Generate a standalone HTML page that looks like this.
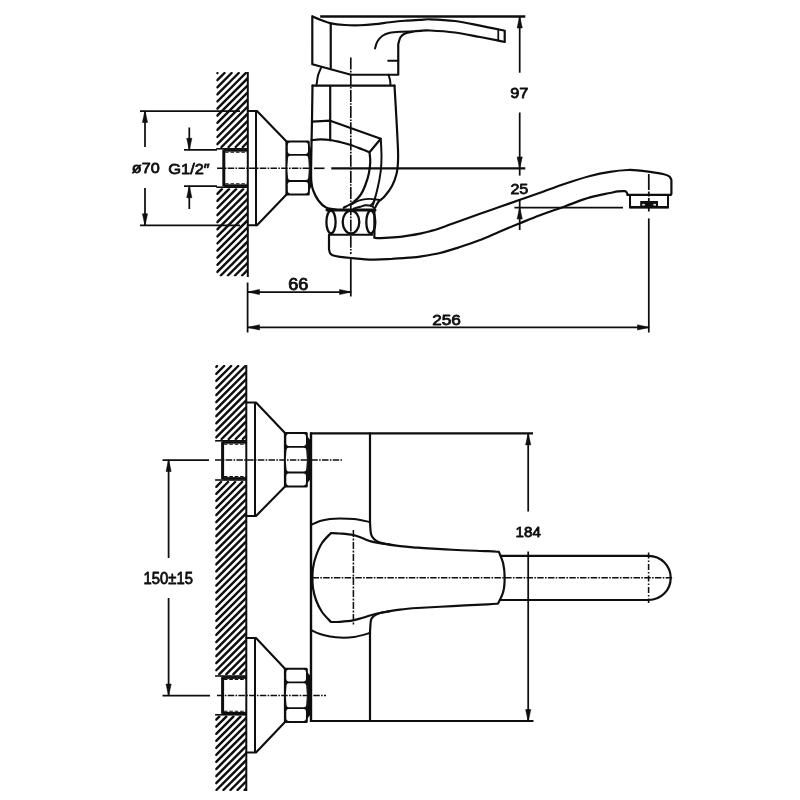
<!DOCTYPE html>
<html><head><meta charset="utf-8"><title>Faucet drawing</title>
<style>
html,body{margin:0;padding:0;background:#fff;}
body{width:800px;height:800px;overflow:hidden;font-family:"Liberation Sans",sans-serif;}
svg{display:block;filter:grayscale(1);}
</style></head>
<body>
<svg width="800" height="800" viewBox="0 0 800 800">
<rect width="800" height="800" fill="#ffffff"/>
<clipPath id="h1"><rect x="216.3" y="72" width="31.19999999999999" height="76.0"/></clipPath>
<g clip-path="url(#h1)" stroke="#140d0a" stroke-width="2.45" stroke-linecap="round">
<line x1="217.30" y1="73.10" x2="217.40" y2="73.00"/>
<line x1="217.30" y1="80.20" x2="224.50" y2="73.00"/>
<line x1="217.30" y1="87.30" x2="231.60" y2="73.00"/>
<line x1="217.30" y1="94.40" x2="238.70" y2="73.00"/>
<line x1="217.30" y1="101.50" x2="245.80" y2="73.00"/>
<line x1="217.30" y1="108.60" x2="247.50" y2="78.40"/>
<line x1="217.30" y1="115.70" x2="247.50" y2="85.50"/>
<line x1="217.30" y1="122.80" x2="247.50" y2="92.60"/>
<line x1="217.30" y1="129.90" x2="247.50" y2="99.70"/>
<line x1="217.30" y1="137.00" x2="247.50" y2="106.80"/>
<line x1="217.30" y1="144.10" x2="247.50" y2="113.90"/>
<line x1="221.50" y1="147.00" x2="247.50" y2="121.00"/>
<line x1="228.60" y1="147.00" x2="247.50" y2="128.10"/>
<line x1="235.70" y1="147.00" x2="247.50" y2="135.20"/>
<line x1="242.80" y1="147.00" x2="247.50" y2="142.30"/>
</g>
<clipPath id="h2"><rect x="216.3" y="188.2" width="31.19999999999999" height="88.30000000000001"/></clipPath>
<g clip-path="url(#h2)" stroke="#140d0a" stroke-width="2.45" stroke-linecap="round">
<line x1="217.30" y1="193.80" x2="221.90" y2="189.20"/>
<line x1="217.30" y1="200.90" x2="229.00" y2="189.20"/>
<line x1="217.30" y1="208.00" x2="236.10" y2="189.20"/>
<line x1="217.30" y1="215.10" x2="243.20" y2="189.20"/>
<line x1="217.30" y1="222.20" x2="247.50" y2="192.00"/>
<line x1="217.30" y1="229.30" x2="247.50" y2="199.10"/>
<line x1="217.30" y1="236.40" x2="247.50" y2="206.20"/>
<line x1="217.30" y1="243.50" x2="247.50" y2="213.30"/>
<line x1="217.30" y1="250.60" x2="247.50" y2="220.40"/>
<line x1="217.30" y1="257.70" x2="247.50" y2="227.50"/>
<line x1="217.30" y1="264.80" x2="247.50" y2="234.60"/>
<line x1="217.30" y1="271.90" x2="247.50" y2="241.70"/>
<line x1="220.80" y1="275.50" x2="247.50" y2="248.80"/>
<line x1="227.90" y1="275.50" x2="247.50" y2="255.90"/>
<line x1="235.00" y1="275.50" x2="247.50" y2="263.00"/>
<line x1="242.10" y1="275.50" x2="247.50" y2="270.10"/>
</g>
<rect x="222.6" y="148.8" width="24.900000000000006" height="38.39999999999998" fill="#fff"/>
<line x1="216.29999999999998" y1="148.8" x2="247.5" y2="148.8" stroke="#140d0a" stroke-width="1.6" stroke-linecap="butt"/>
<line x1="216.29999999999998" y1="187.2" x2="247.5" y2="187.2" stroke="#140d0a" stroke-width="1.6" stroke-linecap="butt"/>
<line x1="223.6" y1="150.4" x2="247.5" y2="150.4" stroke="#140d0a" stroke-width="2.6" stroke-linecap="butt"/>
<line x1="223.6" y1="185.6" x2="247.5" y2="185.6" stroke="#140d0a" stroke-width="2.6" stroke-linecap="butt"/>
<line x1="225.1" y1="152.3" x2="247.5" y2="152.3" stroke="#140d0a" stroke-width="1.1" stroke-linecap="butt" stroke-dasharray="3.6 1.8"/>
<line x1="225.1" y1="183.7" x2="247.5" y2="183.7" stroke="#140d0a" stroke-width="1.1" stroke-linecap="butt" stroke-dasharray="3.6 1.8"/>
<line x1="223.79999999999998" y1="149.8" x2="223.79999999999998" y2="186.2" stroke="#140d0a" stroke-width="3.0" stroke-linecap="butt"/>
<line x1="247.8" y1="72" x2="247.8" y2="277" stroke="#140d0a" stroke-width="2.0" stroke-linecap="butt"/>
<line x1="140" y1="111" x2="240" y2="111" stroke="#140d0a" stroke-width="1.75" stroke-linecap="butt"/>
<line x1="140" y1="225.3" x2="240" y2="225.3" stroke="#140d0a" stroke-width="1.75" stroke-linecap="butt"/>
<line x1="145" y1="111" x2="145" y2="147" stroke="#140d0a" stroke-width="1.75" stroke-linecap="butt"/>
<polygon fill="#140d0a" stroke="#140d0a" stroke-width="0.5" stroke-linejoin="round" points="145.0,110.5 142.4,122.5 147.6,122.5"/>
<line x1="145" y1="188" x2="145" y2="225.3" stroke="#140d0a" stroke-width="1.75" stroke-linecap="butt"/>
<polygon fill="#140d0a" stroke="#140d0a" stroke-width="0.5" stroke-linejoin="round" points="145.0,225.8 142.4,213.8 147.6,213.8"/>
<text x="131.75" y="172.5" textLength="27.91" lengthAdjust="spacingAndGlyphs" font-family="'Liberation Sans', sans-serif" font-size="15.5" fill="#140d0a" stroke="#140d0a" stroke-width="0.8" stroke-linejoin="round">ø70</text>
<line x1="184" y1="149.8" x2="217" y2="149.8" stroke="#140d0a" stroke-width="1.75" stroke-linecap="butt"/>
<line x1="184" y1="186.2" x2="217" y2="186.2" stroke="#140d0a" stroke-width="1.75" stroke-linecap="butt"/>
<line x1="189.3" y1="127.5" x2="189.3" y2="149" stroke="#140d0a" stroke-width="1.75" stroke-linecap="butt"/>
<polygon fill="#140d0a" stroke="#140d0a" stroke-width="0.5" stroke-linejoin="round" points="189.3,150.3 186.7,138.3 191.9,138.3"/>
<line x1="189.3" y1="209" x2="189.3" y2="187" stroke="#140d0a" stroke-width="1.75" stroke-linecap="butt"/>
<polygon fill="#140d0a" stroke="#140d0a" stroke-width="0.5" stroke-linejoin="round" points="189.3,185.7 186.7,197.7 191.9,197.7"/>
<text x="168.25" y="173.7" textLength="41.41" lengthAdjust="spacingAndGlyphs" font-family="'Liberation Sans', sans-serif" font-size="15.5" fill="#140d0a" stroke="#140d0a" stroke-width="0.8" stroke-linejoin="round">G1/2″</text>
<path d="M247.8,111 H257 L286.5,141.5 M247.8,225.3 H257 L286.5,194.5" fill="none" stroke="#140d0a" stroke-width="2.1" stroke-linejoin="round" stroke-linecap="round" />
<line x1="256" y1="111" x2="256" y2="225.3" stroke="#140d0a" stroke-width="2.0" stroke-linecap="butt"/>
<rect x="285.4" y="140.5" width="24.4" height="55.0" rx="1.5" fill="#140d0a"/>
<path d="M290.1,142.6 H305.7 Q308.0,142.6 308.0,144.9 Q308.0,148.25 308.0,151.6 Q308.0,153.9 305.7,153.9 H290.1 Q287.8,153.9 287.8,151.6 Q287.8,148.25 287.8,144.9 Q287.8,142.6 290.1,142.6 Z" fill="#fff"/>
<path d="M290.3,155.70000000000002 H305.9 Q308.2,155.70000000000002 308.2,158.00000000000003 Q309.59999999999997,167.9 308.2,177.79999999999998 Q308.2,180.1 305.9,180.1 H290.3 Q288.0,180.1 288.0,177.79999999999998 Q286.6,167.9 288.0,158.00000000000003 Q288.0,155.70000000000002 290.3,155.70000000000002 Z" fill="#fff"/>
<path d="M290.1,181.9 H305.7 Q308.0,181.9 308.0,184.20000000000002 Q308.0,187.65 308.0,191.1 Q308.0,193.4 305.7,193.4 H290.1 Q287.8,193.4 287.8,191.1 Q287.8,187.65 287.8,184.20000000000002 Q287.8,181.9 290.1,181.9 Z" fill="#fff"/>
<path d="M309,144.5 Q309.8,168.0 309,191.5 L311.3,186.5 V149.5 Z" fill="#140d0a"/>
<line x1="217" y1="168.3" x2="310" y2="168.3" stroke="#140d0a" stroke-width="1.55" stroke-linecap="butt" stroke-dasharray="6.5 1.3 1.6 1.3"/>
<line x1="314" y1="168.3" x2="324.5" y2="168.3" stroke="#140d0a" stroke-width="1.65" stroke-linecap="butt"/>
<line x1="331.3" y1="168.3" x2="525.3" y2="168.3" stroke="#140d0a" stroke-width="2.2" stroke-linecap="butt"/>
<line x1="350.8" y1="57.5" x2="350.8" y2="254" stroke="#140d0a" stroke-width="1.65" stroke-linecap="butt" stroke-dasharray="12 1.3 1.6 1.3"/>
<line x1="350.8" y1="257.5" x2="350.8" y2="296.5" stroke="#140d0a" stroke-width="1.75" stroke-linecap="butt"/>
<path d="M312.3,16.25 V64.25 L351,74.75 H398.25 V44 C398.62,42.88 399.38,39.00 400.50,37.25 C401.62,35.50 403.00,34.42 405.00,33.50 C407.00,32.58 410.00,32.13 412.50,31.70 C415.00,31.27 417.08,31.10 420.00,30.90 C422.92,30.70 424.17,30.23 430.00,30.50 C435.83,30.77 446.67,31.42 455.00,32.50 C463.33,33.58 472.92,35.68 480.00,37.00 C487.08,38.32 493.38,39.57 497.50,40.40 C501.62,41.23 503.50,41.73 504.70,42.00 V30.75 C500.58,29.89 488.28,27.23 480.00,25.60 C471.72,23.98 463.33,22.05 455.00,21.00 C446.67,19.95 435.83,19.48 430.00,19.30 C424.17,19.12 424.17,19.66 420.00,19.90 C415.83,20.14 410.00,20.36 405.00,20.75 C400.00,21.14 395.00,21.68 390.00,22.25 C385.00,22.82 380.00,23.70 375.00,24.20 C370.00,24.70 365.00,25.12 360.00,25.25 C355.00,25.38 349.88,25.32 345.00,25.00 C340.12,24.68 334.75,24.13 330.75,23.30 C326.75,22.47 324.07,21.18 321.00,20.00 C317.93,18.82 313.75,16.88 312.30,16.25 Z" fill="none" stroke="#140d0a" stroke-width="2.2" stroke-linejoin="round" stroke-linecap="round" />
<path d="M330.75,23.3 V68" fill="none" stroke="#140d0a" stroke-width="2.2" stroke-linejoin="round" stroke-linecap="round" />
<path d="M375.00,48.50 C375.38,47.38 376.00,43.88 377.25,41.75 C378.50,39.62 380.38,37.25 382.50,35.75 C384.62,34.25 386.75,33.42 390.00,32.75 C393.25,32.08 398.25,31.91 402.00,31.70 C405.75,31.49 410.75,31.53 412.50,31.50 " fill="none" stroke="#140d0a" stroke-width="2.0" stroke-linejoin="round" stroke-linecap="round" />
<path d="M388.2,60.8 H398.25" fill="none" stroke="#140d0a" stroke-width="2.0" stroke-linejoin="round" stroke-linecap="round" />
<path d="M498.25,29.3 V40.5" fill="none" stroke="#140d0a" stroke-width="1.75" stroke-linejoin="round" stroke-linecap="round" />
<path d="M321.00,68.00 C320.50,69.25 318.75,72.62 318.00,75.50 C317.25,78.38 316.75,83.62 316.50,85.25 " fill="none" stroke="#140d0a" stroke-width="2.0" stroke-linejoin="round" stroke-linecap="round" />
<path d="M388.50,74.75 C388.75,75.62 389.67,78.25 390.00,80.00 C390.33,81.75 390.42,84.38 390.50,85.25 " fill="none" stroke="#140d0a" stroke-width="2.0" stroke-linejoin="round" stroke-linecap="round" />
<path d="M312.5,85.7 H394.5" fill="none" stroke="#140d0a" stroke-width="2.2" stroke-linejoin="round" stroke-linecap="round" />
<path d="M330.2,86 V140.4" fill="none" stroke="#140d0a" stroke-width="2.2" stroke-linejoin="round" stroke-linecap="round" />
<path d="M312.5,85.5 L312,120 L311.4,150 C311.35,153.67 311.10,166.67 311.10,172.00 C311.10,177.33 311.05,178.92 311.40,182.00 C311.75,185.08 312.03,187.42 313.20,190.50 C314.37,193.58 316.27,197.65 318.40,200.50 C320.53,203.35 323.07,206.10 326.00,207.60 C328.93,209.10 334.33,209.18 336.00,209.50 " fill="none" stroke="#140d0a" stroke-width="2.2" stroke-linejoin="round" stroke-linecap="round" />
<path d="M343.75,207.80 C345.29,206.92 350.21,204.63 353.00,202.50 C355.79,200.37 358.50,197.75 360.50,195.00 C362.50,192.25 363.62,189.50 365.00,186.00 C366.38,182.50 367.88,178.00 368.75,174.00 C369.62,170.00 370.12,165.62 370.25,162.00 C370.38,158.38 369.62,153.88 369.50,152.25 " fill="none" stroke="#140d0a" stroke-width="2.2" stroke-linejoin="round" stroke-linecap="round" />
<path d="M394.50,85.70 C394.83,91.42 395.92,109.28 396.50,120.00 C397.08,130.72 397.75,143.00 398.00,150.00 C398.25,157.00 398.25,158.00 398.00,162.00 C397.75,166.00 397.50,170.00 396.50,174.00 C395.50,178.00 394.00,182.25 392.00,186.00 C390.00,189.75 386.75,193.88 384.50,196.50 C382.25,199.12 380.04,199.92 378.50,201.75 C376.96,203.58 375.79,206.54 375.25,207.50 " fill="none" stroke="#140d0a" stroke-width="2.2" stroke-linejoin="round" stroke-linecap="round" />
<path d="M312,121.7 L330.2,120.7 L380.75,138.75 L369.5,152.25 C368.25,151.75 365.25,150.50 362.00,149.25 C358.75,148.00 353.67,145.96 350.00,144.75 C346.33,143.54 343.30,142.79 340.00,142.00 C336.70,141.21 333.53,140.43 330.20,140.00 C326.87,139.57 323.10,139.37 320.00,139.40 C316.90,139.43 313.00,140.07 311.60,140.20 " fill="none" stroke="#140d0a" stroke-width="2.2" stroke-linejoin="round" stroke-linecap="round" />
<path d="M380.75,138.75 C380.88,141.62 381.50,150.62 381.50,156.00 C381.50,161.38 381.38,165.75 380.75,171.00 C380.12,176.25 378.88,182.50 377.75,187.50 C376.62,192.50 375.17,198.04 374.00,201.00 C372.83,203.96 371.29,204.54 370.75,205.25 " fill="none" stroke="#140d0a" stroke-width="2.0" stroke-linejoin="round" stroke-linecap="round" />
<path d="M374.6,200.4 L373,205" fill="none" stroke="#140d0a" stroke-width="1.8000000000000003" stroke-linejoin="round" stroke-linecap="round" />
<path d="M351.25,204.50 C352.62,203.82 356.62,201.33 359.50,200.40 C362.38,199.47 365.00,198.97 368.50,198.90 C372.00,198.83 378.50,199.82 380.50,200.00 " fill="none" stroke="#140d0a" stroke-width="1.9000000000000001" stroke-linejoin="round" stroke-linecap="round" />
<path d="M353.50,208.60 C354.62,208.29 358.25,207.31 360.25,206.75 C362.25,206.19 363.62,205.38 365.50,205.25 C367.38,205.12 370.00,205.50 371.50,206.00 C373.00,206.50 374.00,207.88 374.50,208.25 " fill="none" stroke="#140d0a" stroke-width="1.9000000000000001" stroke-linejoin="round" stroke-linecap="round" />
<line x1="327" y1="209.9" x2="375" y2="209.9" stroke="#140d0a" stroke-width="3.0" stroke-linecap="round"/>
<ellipse cx="331" cy="222" rx="4.6" ry="11.3" fill="none" stroke="#140d0a" stroke-width="2.3000000000000003"/>
<ellipse cx="351" cy="222" rx="8.3" ry="11.5" fill="none" stroke="#140d0a" stroke-width="2.3000000000000003"/>
<ellipse cx="370.8" cy="222" rx="4.5" ry="11.3" fill="none" stroke="#140d0a" stroke-width="2.3000000000000003"/>
<line x1="328.75" y1="234.75" x2="373" y2="234.75" stroke="#140d0a" stroke-width="2.2" stroke-linecap="butt"/>
<path d="M329,234.75 V249 C329.17,249.67 329.42,251.97 330.00,253.00 C330.58,254.03 330.83,254.57 332.50,255.20 C334.17,255.83 336.92,256.33 340.00,256.80 C343.08,257.27 345.58,257.53 351.00,258.00 C356.42,258.47 365.83,259.43 372.50,259.60 C379.17,259.77 384.75,259.33 391.00,259.00 C397.25,258.67 405.17,258.00 410.00,257.60 C414.83,257.20 415.00,257.37 420.00,256.60 C425.00,255.83 433.33,254.60 440.00,253.00 C446.67,251.40 453.33,249.17 460.00,247.00 C466.67,244.83 473.33,242.60 480.00,240.00 C486.67,237.40 493.33,234.20 500.00,231.40 C506.67,228.60 513.33,225.90 520.00,223.20 C526.67,220.50 532.92,217.86 540.00,215.20 C547.08,212.54 557.50,209.05 562.50,207.25 C567.50,205.45 565.42,206.04 570.00,204.40 C574.58,202.76 583.33,199.30 590.00,197.40 C596.67,195.50 605.33,194.00 610.00,193.00 C614.67,192.00 615.50,191.70 618.00,191.40 C620.50,191.10 623.50,190.93 625.00,191.20 C626.50,191.47 626.58,192.37 627.00,193.00 C627.42,193.63 627.42,194.67 627.50,195.00 H670" fill="none" stroke="#140d0a" stroke-width="2.2" stroke-linejoin="round" stroke-linecap="round" />
<path d="M374.4,210 V237 C374.53,237.17 373.43,237.87 375.20,238.00 C376.97,238.13 380.87,238.00 385.00,237.80 C389.13,237.60 395.83,237.20 400.00,236.80 C404.17,236.40 406.67,235.93 410.00,235.40 C413.33,234.87 416.67,234.30 420.00,233.60 C423.33,232.90 426.67,232.10 430.00,231.20 C433.33,230.30 435.00,229.90 440.00,228.20 C445.00,226.50 453.33,223.40 460.00,221.00 C466.67,218.60 473.33,216.17 480.00,213.80 C486.67,211.43 493.33,209.14 500.00,206.80 C506.67,204.46 513.33,202.09 520.00,199.75 C526.67,197.41 532.50,195.42 540.00,192.75 C547.50,190.08 556.67,186.54 565.00,183.75 C573.33,180.96 582.50,177.99 590.00,176.00 C597.50,174.01 603.67,172.80 610.00,171.80 C616.33,170.80 623.00,170.20 628.00,170.00 C633.00,169.80 636.33,170.30 640.00,170.60 C643.67,170.90 646.17,171.23 650.00,171.80 C653.83,172.37 659.79,173.25 663.00,174.00 C666.21,174.75 667.85,175.30 669.25,176.30 C670.65,177.30 671.04,179.38 671.40,180.00 V194 L670.6,195" fill="none" stroke="#140d0a" stroke-width="2.2" stroke-linejoin="round" stroke-linecap="round" />
<path d="M630,195 V207.2 H668 V195" fill="none" stroke="#140d0a" stroke-width="2.0" stroke-linejoin="round" stroke-linecap="round" />
<line x1="629.2" y1="207.3" x2="668.8" y2="207.3" stroke="#140d0a" stroke-width="2.5" stroke-linecap="butt"/>
<line x1="626.8" y1="194.9" x2="671.2" y2="194.9" stroke="#140d0a" stroke-width="2.1" stroke-linecap="butt"/>
<rect x="640.2" y="201" width="17.8" height="6.4" fill="#140d0a"/>
<rect x="642.2" y="203.9" width="2.6" height="1.7" fill="#e8e4e0"/>
<rect x="653.4" y="203.9" width="2.6" height="1.7" fill="#e8e4e0"/>
<line x1="648.8" y1="174" x2="648.8" y2="211.6" stroke="#140d0a" stroke-width="1.75" stroke-linecap="butt" stroke-dasharray="16 1.5 5 1.5 6 1.5"/>
<line x1="648.8" y1="218.4" x2="648.8" y2="332.5" stroke="#140d0a" stroke-width="1.75" stroke-linecap="butt"/>
<line x1="320.2" y1="16.5" x2="525.3" y2="16.5" stroke="#140d0a" stroke-width="2.3000000000000003" stroke-linecap="butt"/>
<line x1="519.7" y1="16.5" x2="519.7" y2="72.7" stroke="#140d0a" stroke-width="1.75" stroke-linecap="butt"/>
<polygon fill="#140d0a" stroke="#140d0a" stroke-width="0.5" stroke-linejoin="round" points="519.7,16.0 517.1,28.0 522.3,28.0"/>
<line x1="519.7" y1="112.5" x2="519.7" y2="175.6" stroke="#140d0a" stroke-width="1.75" stroke-linecap="butt"/>
<polygon fill="#140d0a" stroke="#140d0a" stroke-width="0.5" stroke-linejoin="round" points="519.7,168.9 517.1,156.9 522.3,156.9"/>
<text x="510.15" y="98" textLength="18.20" lengthAdjust="spacingAndGlyphs" font-family="'Liberation Sans', sans-serif" font-size="15.5" fill="#140d0a" stroke="#140d0a" stroke-width="0.8" stroke-linejoin="round">97</text>
<line x1="514.4" y1="207.5" x2="623" y2="207.5" stroke="#140d0a" stroke-width="1.75" stroke-linecap="butt"/>
<line x1="519.7" y1="199.6" x2="519.7" y2="230" stroke="#140d0a" stroke-width="1.75" stroke-linecap="butt"/>
<polygon fill="#140d0a" stroke="#140d0a" stroke-width="0.5" stroke-linejoin="round" points="519.7,207.0 517.1,219.0 522.3,219.0"/>
<text x="510.40" y="193.5" textLength="17.95" lengthAdjust="spacingAndGlyphs" font-family="'Liberation Sans', sans-serif" font-size="15.5" fill="#140d0a" stroke="#140d0a" stroke-width="0.8" stroke-linejoin="round">25</text>
<line x1="247.6" y1="282.5" x2="247.6" y2="332.5" stroke="#140d0a" stroke-width="1.75" stroke-linecap="butt"/>
<line x1="248" y1="292" x2="351" y2="292" stroke="#140d0a" stroke-width="1.75" stroke-linecap="butt"/>
<polygon fill="#140d0a" stroke="#140d0a" stroke-width="0.5" stroke-linejoin="round" points="247.5,292.0 259.5,289.4 259.5,294.6"/>
<polygon fill="#140d0a" stroke="#140d0a" stroke-width="0.5" stroke-linejoin="round" points="351.5,292.0 339.5,289.4 339.5,294.6"/>
<text x="288.22" y="289.6" textLength="20.06" lengthAdjust="spacingAndGlyphs" font-family="'Liberation Sans', sans-serif" font-size="16" fill="#140d0a" stroke="#140d0a" stroke-width="0.8" stroke-linejoin="round">66</text>
<line x1="248" y1="327.4" x2="649" y2="327.4" stroke="#140d0a" stroke-width="1.75" stroke-linecap="butt"/>
<polygon fill="#140d0a" stroke="#140d0a" stroke-width="0.5" stroke-linejoin="round" points="247.5,327.4 259.5,324.8 259.5,330.0"/>
<polygon fill="#140d0a" stroke="#140d0a" stroke-width="0.5" stroke-linejoin="round" points="649.5,327.4 637.5,324.8 637.5,330.0"/>
<text x="432.18" y="325" textLength="28.65" lengthAdjust="spacingAndGlyphs" font-family="'Liberation Sans', sans-serif" font-size="15" fill="#140d0a" stroke="#140d0a" stroke-width="0.8" stroke-linejoin="round">256</text>
<clipPath id="h3"><rect x="215.2" y="365" width="30.80000000000001" height="75.0"/></clipPath>
<g clip-path="url(#h3)" stroke="#140d0a" stroke-width="2.45" stroke-linecap="round">
<line x1="216.20" y1="366.84" x2="217.04" y2="366.00"/>
<line x1="216.20" y1="373.90" x2="224.10" y2="366.00"/>
<line x1="216.20" y1="380.96" x2="231.16" y2="366.00"/>
<line x1="216.20" y1="388.01" x2="238.21" y2="366.00"/>
<line x1="216.20" y1="395.07" x2="245.27" y2="366.00"/>
<line x1="216.20" y1="402.12" x2="246.00" y2="372.32"/>
<line x1="216.20" y1="409.18" x2="246.00" y2="379.38"/>
<line x1="216.20" y1="416.24" x2="246.00" y2="386.44"/>
<line x1="216.20" y1="423.29" x2="246.00" y2="393.49"/>
<line x1="216.20" y1="430.35" x2="246.00" y2="400.55"/>
<line x1="216.20" y1="437.40" x2="246.00" y2="407.60"/>
<line x1="221.66" y1="439.00" x2="246.00" y2="414.66"/>
<line x1="228.72" y1="439.00" x2="246.00" y2="421.72"/>
<line x1="235.77" y1="439.00" x2="246.00" y2="428.77"/>
<line x1="242.83" y1="439.00" x2="246.00" y2="435.83"/>
</g>
<clipPath id="h4"><rect x="215.2" y="481" width="30.80000000000001" height="194.20000000000005"/></clipPath>
<g clip-path="url(#h4)" stroke="#140d0a" stroke-width="2.45" stroke-linecap="round">
<line x1="216.20" y1="486.80" x2="221.00" y2="482.00"/>
<line x1="216.20" y1="493.85" x2="228.05" y2="482.00"/>
<line x1="216.20" y1="500.91" x2="235.11" y2="482.00"/>
<line x1="216.20" y1="507.96" x2="242.16" y2="482.00"/>
<line x1="216.20" y1="515.02" x2="246.00" y2="485.22"/>
<line x1="216.20" y1="522.08" x2="246.00" y2="492.28"/>
<line x1="216.20" y1="529.13" x2="246.00" y2="499.33"/>
<line x1="216.20" y1="536.19" x2="246.00" y2="506.39"/>
<line x1="216.20" y1="543.24" x2="246.00" y2="513.44"/>
<line x1="216.20" y1="550.30" x2="246.00" y2="520.50"/>
<line x1="216.20" y1="557.36" x2="246.00" y2="527.56"/>
<line x1="216.20" y1="564.41" x2="246.00" y2="534.61"/>
<line x1="216.20" y1="571.47" x2="246.00" y2="541.67"/>
<line x1="216.20" y1="578.52" x2="246.00" y2="548.72"/>
<line x1="216.20" y1="585.58" x2="246.00" y2="555.78"/>
<line x1="216.20" y1="592.64" x2="246.00" y2="562.84"/>
<line x1="216.20" y1="599.69" x2="246.00" y2="569.89"/>
<line x1="216.20" y1="606.75" x2="246.00" y2="576.95"/>
<line x1="216.20" y1="613.80" x2="246.00" y2="584.00"/>
<line x1="216.20" y1="620.86" x2="246.00" y2="591.06"/>
<line x1="216.20" y1="627.92" x2="246.00" y2="598.12"/>
<line x1="216.20" y1="634.97" x2="246.00" y2="605.17"/>
<line x1="216.20" y1="642.03" x2="246.00" y2="612.23"/>
<line x1="216.20" y1="649.08" x2="246.00" y2="619.28"/>
<line x1="216.20" y1="656.14" x2="246.00" y2="626.34"/>
<line x1="216.20" y1="663.20" x2="246.00" y2="633.40"/>
<line x1="216.20" y1="670.25" x2="246.00" y2="640.45"/>
<line x1="219.31" y1="674.20" x2="246.00" y2="647.51"/>
<line x1="226.36" y1="674.20" x2="246.00" y2="654.56"/>
<line x1="233.42" y1="674.20" x2="246.00" y2="661.62"/>
<line x1="240.48" y1="674.20" x2="246.00" y2="668.68"/>
</g>
<clipPath id="h5"><rect x="215.2" y="715.6" width="30.80000000000001" height="75.39999999999998"/></clipPath>
<g clip-path="url(#h5)" stroke="#140d0a" stroke-width="2.45" stroke-linecap="round">
<line x1="216.20" y1="719.64" x2="219.24" y2="716.60"/>
<line x1="216.20" y1="726.70" x2="226.30" y2="716.60"/>
<line x1="216.20" y1="733.76" x2="233.36" y2="716.60"/>
<line x1="216.20" y1="740.81" x2="240.41" y2="716.60"/>
<line x1="216.20" y1="747.87" x2="246.00" y2="718.07"/>
<line x1="216.20" y1="754.92" x2="246.00" y2="725.12"/>
<line x1="216.20" y1="761.98" x2="246.00" y2="732.18"/>
<line x1="216.20" y1="769.04" x2="246.00" y2="739.24"/>
<line x1="216.20" y1="776.09" x2="246.00" y2="746.29"/>
<line x1="216.20" y1="783.15" x2="246.00" y2="753.35"/>
<line x1="216.40" y1="790.00" x2="246.00" y2="760.40"/>
<line x1="223.46" y1="790.00" x2="246.00" y2="767.46"/>
<line x1="230.52" y1="790.00" x2="246.00" y2="774.52"/>
<line x1="237.57" y1="790.00" x2="246.00" y2="781.57"/>
<line x1="244.63" y1="790.00" x2="246.00" y2="788.63"/>
</g>
<rect x="221.4" y="440.8" width="24.599999999999994" height="39.19999999999999" fill="#fff"/>
<line x1="215.1" y1="440.8" x2="246" y2="440.8" stroke="#140d0a" stroke-width="1.6" stroke-linecap="butt"/>
<line x1="215.1" y1="480" x2="246" y2="480" stroke="#140d0a" stroke-width="1.6" stroke-linecap="butt"/>
<line x1="222.4" y1="442.40000000000003" x2="246" y2="442.40000000000003" stroke="#140d0a" stroke-width="2.6" stroke-linecap="butt"/>
<line x1="222.4" y1="478.4" x2="246" y2="478.4" stroke="#140d0a" stroke-width="2.6" stroke-linecap="butt"/>
<line x1="223.9" y1="444.3" x2="246" y2="444.3" stroke="#140d0a" stroke-width="1.1" stroke-linecap="butt" stroke-dasharray="3.6 1.8"/>
<line x1="223.9" y1="476.5" x2="246" y2="476.5" stroke="#140d0a" stroke-width="1.1" stroke-linecap="butt" stroke-dasharray="3.6 1.8"/>
<line x1="222.6" y1="441.8" x2="222.6" y2="479" stroke="#140d0a" stroke-width="3.0" stroke-linecap="butt"/>
<rect x="221.4" y="676" width="24.599999999999994" height="38.799999999999955" fill="#fff"/>
<line x1="215.1" y1="676" x2="246" y2="676" stroke="#140d0a" stroke-width="1.6" stroke-linecap="butt"/>
<line x1="215.1" y1="714.8" x2="246" y2="714.8" stroke="#140d0a" stroke-width="1.6" stroke-linecap="butt"/>
<line x1="222.4" y1="677.6" x2="246" y2="677.6" stroke="#140d0a" stroke-width="2.6" stroke-linecap="butt"/>
<line x1="222.4" y1="713.1999999999999" x2="246" y2="713.1999999999999" stroke="#140d0a" stroke-width="2.6" stroke-linecap="butt"/>
<line x1="223.9" y1="679.5" x2="246" y2="679.5" stroke="#140d0a" stroke-width="1.1" stroke-linecap="butt" stroke-dasharray="3.6 1.8"/>
<line x1="223.9" y1="711.3" x2="246" y2="711.3" stroke="#140d0a" stroke-width="1.1" stroke-linecap="butt" stroke-dasharray="3.6 1.8"/>
<line x1="222.6" y1="677" x2="222.6" y2="713.8" stroke="#140d0a" stroke-width="3.0" stroke-linecap="butt"/>
<line x1="246.3" y1="365" x2="246.3" y2="791" stroke="#140d0a" stroke-width="2.0" stroke-linecap="butt"/>
<path d="M246.3,402.5 H256 L285,433 M246.3,516 H256 L285,486.5" fill="none" stroke="#140d0a" stroke-width="2.1" stroke-linejoin="round" stroke-linecap="round" />
<line x1="255" y1="402.5" x2="255" y2="516" stroke="#140d0a" stroke-width="2.0" stroke-linecap="butt"/>
<rect x="283.9" y="432.0" width="23.9" height="55.5" rx="1.5" fill="#140d0a"/>
<path d="M288.6,434.1 H303.7 Q306.0,434.1 306.0,436.40000000000003 Q306.0,440.0 306.0,443.6 Q306.0,445.90000000000003 303.7,445.90000000000003 H288.6 Q286.3,445.90000000000003 286.3,443.6 Q286.3,440.0 286.3,436.40000000000003 Q286.3,434.1 288.6,434.1 Z" fill="#fff"/>
<path d="M288.8,447.7 H303.9 Q306.2,447.7 306.2,450.0 Q307.59999999999997,459.65 306.2,469.3 Q306.2,471.6 303.9,471.6 H288.8 Q286.5,471.6 286.5,469.3 Q285.1,459.65 286.5,450.0 Q286.5,447.7 288.8,447.7 Z" fill="#fff"/>
<path d="M288.6,473.4 H303.7 Q306.0,473.4 306.0,475.7 Q306.0,479.4 306.0,483.09999999999997 Q306.0,485.4 303.7,485.4 H288.6 Q286.3,485.4 286.3,483.09999999999997 Q286.3,479.4 286.3,475.7 Q286.3,473.4 288.6,473.4 Z" fill="#fff"/>
<path d="M307,436 Q307.8,459.75 307,483.5 L311,478.5 V441 Z" fill="#140d0a"/>
<path d="M246.3,638 H256 L285,668.7 M246.3,752.5 H256 L285,722" fill="none" stroke="#140d0a" stroke-width="2.1" stroke-linejoin="round" stroke-linecap="round" />
<line x1="255" y1="638" x2="255" y2="752.5" stroke="#140d0a" stroke-width="2.0" stroke-linecap="butt"/>
<rect x="283.9" y="667.7" width="23.9" height="55.299999999999955" rx="1.5" fill="#140d0a"/>
<path d="M288.6,669.8000000000001 H303.7 Q306.0,669.8000000000001 306.0,672.1 Q306.0,675.6 306.0,679.1 Q306.0,681.4 303.7,681.4 H288.6 Q286.3,681.4 286.3,679.1 Q286.3,675.6 286.3,672.1 Q286.3,669.8000000000001 288.6,669.8000000000001 Z" fill="#fff"/>
<path d="M288.8,683.1999999999999 H303.9 Q306.2,683.1999999999999 306.2,685.4999999999999 Q307.59999999999997,695.25 306.2,705.0000000000001 Q306.2,707.3000000000001 303.9,707.3000000000001 H288.8 Q286.5,707.3000000000001 286.5,705.0000000000001 Q285.1,695.25 286.5,685.4999999999999 Q286.5,683.1999999999999 288.8,683.1999999999999 Z" fill="#fff"/>
<path d="M288.6,709.1 H303.7 Q306.0,709.1 306.0,711.4 Q306.0,715.0 306.0,718.6 Q306.0,720.9 303.7,720.9 H288.6 Q286.3,720.9 286.3,718.6 Q286.3,715.0 286.3,711.4 Q286.3,709.1 288.6,709.1 Z" fill="#fff"/>
<path d="M307,671.7 Q307.8,695.35 307,719 L311,714 V676.7 Z" fill="#140d0a"/>
<line x1="162.5" y1="460" x2="209" y2="460" stroke="#140d0a" stroke-width="1.75" stroke-linecap="butt"/>
<line x1="215" y1="460" x2="342" y2="460" stroke="#140d0a" stroke-width="1.55" stroke-linecap="butt" stroke-dasharray="6.5 1.3 1.6 1.3"/>
<line x1="162.5" y1="695.5" x2="210" y2="695.5" stroke="#140d0a" stroke-width="1.75" stroke-linecap="butt"/>
<line x1="217" y1="695.5" x2="326" y2="695.5" stroke="#140d0a" stroke-width="1.55" stroke-linecap="butt" stroke-dasharray="6.5 1.3 1.6 1.3"/>
<line x1="168.6" y1="460" x2="168.6" y2="558" stroke="#140d0a" stroke-width="1.75" stroke-linecap="butt"/>
<polygon fill="#140d0a" stroke="#140d0a" stroke-width="0.5" stroke-linejoin="round" points="168.6,459.5 166.0,471.5 171.2,471.5"/>
<line x1="168.6" y1="598" x2="168.6" y2="695.5" stroke="#140d0a" stroke-width="1.75" stroke-linecap="butt"/>
<polygon fill="#140d0a" stroke="#140d0a" stroke-width="0.5" stroke-linejoin="round" points="168.6,696.0 166.0,684.0 171.2,684.0"/>
<text x="143.62" y="583.8" textLength="49.26" lengthAdjust="spacingAndGlyphs" font-family="'Liberation Sans', sans-serif" font-size="16" fill="#140d0a" stroke="#140d0a" stroke-width="0.8" stroke-linejoin="round">150±15</text>
<line x1="311" y1="432.5" x2="311" y2="722" stroke="#140d0a" stroke-width="2.4" stroke-linecap="butt"/>
<line x1="310" y1="433.4" x2="533" y2="433.4" stroke="#140d0a" stroke-width="2.2" stroke-linecap="butt"/>
<line x1="310" y1="721" x2="533.5" y2="721" stroke="#140d0a" stroke-width="2.2" stroke-linecap="butt"/>
<path d="M370,433.4 V522 C370.17,524.00 370.33,531.17 371.00,534.00 C371.67,536.83 372.50,537.57 374.00,539.00 C375.50,540.43 377.33,541.67 380.00,542.60 C382.67,543.53 388.33,544.27 390.00,544.60 " fill="none" stroke="#140d0a" stroke-width="2.2" stroke-linejoin="round" stroke-linecap="round" />
<path d="M370,721 V632 C370.17,630.00 370.33,622.67 371.00,620.00 C371.67,617.33 372.50,617.17 374.00,616.00 C375.50,614.83 377.33,613.80 380.00,613.00 C382.67,612.20 388.33,611.50 390.00,611.20 " fill="none" stroke="#140d0a" stroke-width="2.2" stroke-linejoin="round" stroke-linecap="round" />
<path d="M311.00,525.00 C312.50,524.33 316.83,522.00 320.00,521.00 C323.17,520.00 326.67,519.43 330.00,519.00 C333.33,518.57 336.00,518.40 340.00,518.40 C344.00,518.40 349.00,518.40 354.00,519.00 C359.00,519.60 367.33,521.50 370.00,522.00 " fill="none" stroke="#140d0a" stroke-width="2.0" stroke-linejoin="round" stroke-linecap="round" />
<path d="M311.00,630.00 C312.50,630.67 316.83,632.93 320.00,634.00 C323.17,635.07 326.67,635.80 330.00,636.40 C333.33,637.00 336.00,637.50 340.00,637.60 C344.00,637.70 349.00,637.77 354.00,637.00 C359.00,636.23 367.33,633.67 370.00,633.00 " fill="none" stroke="#140d0a" stroke-width="2.0" stroke-linejoin="round" stroke-linecap="round" />
<path d="M331.00,533.00 C332.50,533.08 336.33,533.17 340.00,533.50 C343.67,533.83 349.33,534.25 353.00,535.00 C356.67,535.75 359.00,536.93 362.00,538.00 C365.00,539.07 368.00,540.53 371.00,541.40 C374.00,542.27 375.17,542.40 380.00,543.20 C384.83,544.00 393.75,545.47 400.00,546.20 C406.25,546.93 408.75,547.01 417.50,547.60 C426.25,548.19 440.83,549.15 452.50,549.75 C464.17,550.35 479.77,550.85 487.50,551.20 C495.23,551.55 497.00,551.74 498.90,551.85 C499.62,553.83 502.29,559.43 503.25,563.75 C504.21,568.07 504.65,573.08 504.65,577.75 C504.65,582.42 504.36,587.43 503.25,591.75 C502.14,596.07 498.88,601.67 498.00,603.65 C496.25,603.77 495.08,603.94 487.50,604.35 C479.92,604.76 464.17,605.49 452.50,606.10 C440.83,606.71 426.25,607.42 417.50,608.00 C408.75,608.58 406.25,608.77 400.00,609.60 C393.75,610.43 384.83,612.07 380.00,613.00 C375.17,613.93 374.00,614.37 371.00,615.20 C368.00,616.03 365.00,617.13 362.00,618.00 C359.00,618.87 356.67,619.77 353.00,620.40 C349.33,621.03 343.67,621.53 340.00,621.80 C336.33,622.07 332.50,621.97 331.00,622.00 C329.50,620.33 324.50,615.67 322.00,612.00 C319.50,608.33 317.50,604.00 316.00,600.00 C314.50,596.00 313.60,591.67 313.00,588.00 C312.40,584.33 312.40,581.33 312.40,578.00 C312.40,574.67 312.40,571.67 313.00,568.00 C313.60,564.33 314.50,560.17 316.00,556.00 C317.50,551.83 319.50,546.83 322.00,543.00 C324.50,539.17 329.50,534.67 331.00,533.00 Z" fill="none" stroke="#140d0a" stroke-width="2.2" stroke-linejoin="round" stroke-linecap="round" />
<line x1="353.4" y1="530" x2="353.4" y2="625.6" stroke="#140d0a" stroke-width="1.55" stroke-linecap="butt" stroke-dasharray="7 1.5 2 1.5"/>
<line x1="312.5" y1="577.8" x2="673.5" y2="577.8" stroke="#140d0a" stroke-width="1.55" stroke-linecap="butt" stroke-dasharray="6.5 1.3 1.6 1.3"/>
<path d="M500.8,555.8 H648.6 A22.1,22.1 0 0 1 648.6,600 H500.8" fill="none" stroke="#140d0a" stroke-width="2.2" stroke-linejoin="round" stroke-linecap="round" />
<line x1="648.6" y1="552.5" x2="648.6" y2="603" stroke="#140d0a" stroke-width="1.55" stroke-linecap="butt" stroke-dasharray="6 2 1.5 2"/>
<line x1="528.2" y1="433.4" x2="528.2" y2="511.5" stroke="#140d0a" stroke-width="1.75" stroke-linecap="butt"/>
<polygon fill="#140d0a" stroke="#140d0a" stroke-width="0.5" stroke-linejoin="round" points="528.2,432.9 525.6,444.9 530.8,444.9"/>
<line x1="528.2" y1="551.5" x2="528.2" y2="721" stroke="#140d0a" stroke-width="1.75" stroke-linecap="butt"/>
<polygon fill="#140d0a" stroke="#140d0a" stroke-width="0.5" stroke-linejoin="round" points="528.2,721.5 525.6,709.5 530.8,709.5"/>
<text x="515.60" y="536.6" textLength="25.20" lengthAdjust="spacingAndGlyphs" font-family="'Liberation Sans', sans-serif" font-size="14.5" fill="#140d0a" stroke="#140d0a" stroke-width="0.8" stroke-linejoin="round">184</text>
</svg>
</body></html>
